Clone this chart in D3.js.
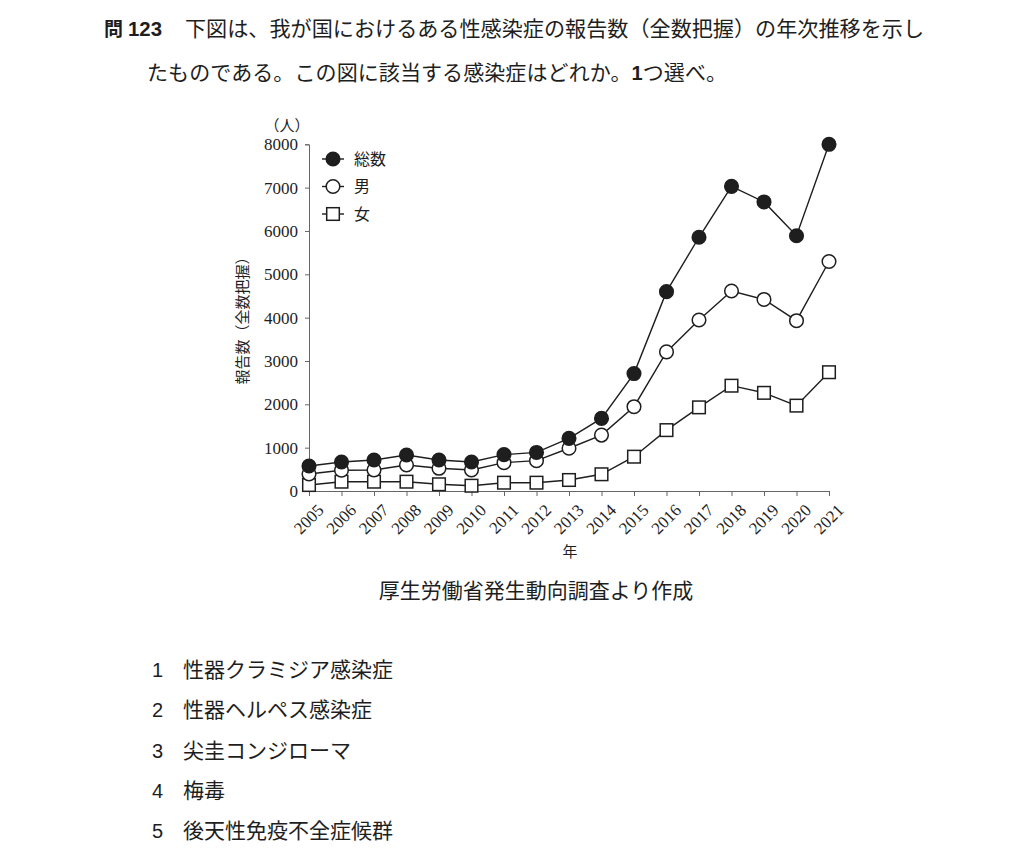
<!DOCTYPE html>
<html><head><meta charset="utf-8">
<script src="https://cdn.jsdelivr.net/npm/d3@7"></script>
<style>
body{margin:0;background:#fff;}
svg{display:block;}
</style></head>
<body>
<svg id="c" width="1032" height="856"></svg>
<script>
const years = [2005,2006,2007,2008,2009,2010,2011,2012,2013,2014,2015,2016,2017,2018,2019,2020,2021];
const totalVals = [577,670,716,830,716,670,840,890,1215,1675,2710,4600,5855,7030,6670,5890,8000];
const maleVals  = [392,480,485,600,524,485,654,700,986,1290,1945,3210,3945,4615,4420,3930,5296];
const femaleVals= [138,215,215,215,155,122,192,192,254,386,792,1405,1930,2430,2265,1970,2741];
const yTicks = [0,1000,2000,3000,4000,5000,6000,7000,8000];
const seriesNames = ["総数","男","女"];
const qNum = ["問","123"];
const question = ["下図は、我が国におけるある性感染症の報告数（全数把握）の年次推移を示し","たものである。この図に該当する感染症はどれか。","1","つ選べ。"];
const options = ["性器クラミジア感染症","性器ヘルペス感染症","尖圭コンジローマ","梅毒","後天性免疫不全症候群"];

const svg = d3.select("#c");
const ink = "#1e1e1e";
const serif = "'Liberation Serif','DejaVu Serif',serif";
const jp = "'Noto Sans CJK JP','Noto Sans',sans-serif";
const sans = "'Liberation Sans','Noto Sans',sans-serif";

// question text
svg.append("text").attr("x",104).attr("y",36).attr("font-family",jp).attr("font-weight","bold")
  .attr("font-size",19).attr("fill",ink).text(qNum[0]);
svg.append("text").attr("x",128).attr("y",36).attr("font-family",sans).attr("font-weight","bold")
  .attr("font-size",20).attr("fill",ink).attr("textLength",34).attr("lengthAdjust","spacingAndGlyphs").text(qNum[1]);
svg.append("text").attr("x",185).attr("y",36).attr("font-family",jp).attr("font-size",21)
  .attr("fill",ink).attr("textLength",739).attr("lengthAdjust","spacingAndGlyphs").text(question[0]);
const l2 = svg.append("text").attr("x",147).attr("y",80).attr("font-family",jp).attr("font-size",21)
  .attr("fill",ink).attr("textLength",580).attr("lengthAdjust","spacing");
l2.append("tspan").text(question[1]);
l2.append("tspan").attr("font-family",sans).attr("font-weight","bold").attr("font-size",20).text(question[2]);
l2.append("tspan").text(question[3]);

// chart
const x = d3.scalePoint().domain(years).range([309,829]);
const y = d3.scaleLinear().domain([0,8000]).range([491,144.3]);

const yAxis = svg.append("g").attr("transform","translate(309,0)")
  .call(d3.axisLeft(y).tickValues(yTicks).tickSize(4).tickPadding(7).tickFormat(d3.format("d")));
yAxis.selectAll("text").attr("font-family",serif).attr("font-size",17).attr("fill",ink);
yAxis.selectAll("line,path").attr("stroke","#666");

const xAxis = svg.append("g").attr("transform","translate(0,491)")
  .call(d3.axisBottom(x).tickSize(5).tickSizeOuter(0));
xAxis.selectAll("line,path").attr("stroke","#666");
xAxis.selectAll("text").attr("font-family",serif).attr("font-size",17).attr("fill",ink)
  .attr("text-anchor","end").attr("x",0).attr("y",0).attr("dy","0.35em")
  .attr("transform","translate(11,16) rotate(-45)");

svg.append("text").attr("x",287).attr("y",131).attr("text-anchor","middle").attr("font-family",jp)
  .attr("font-size",15).attr("fill",ink).text("（人）");
svg.append("text").attr("transform","translate(248,317) rotate(-90)").attr("text-anchor","middle")
  .attr("font-family",jp).attr("font-size",15).attr("fill",ink).text("報告数（全数把握）");
svg.append("text").attr("x",570).attr("y",557).attr("text-anchor","middle").attr("font-family",jp)
  .attr("font-size",15).attr("fill",ink).text("年");
svg.append("text").attr("x",536).attr("y",598).attr("text-anchor","middle").attr("font-family",jp)
  .attr("font-size",21).attr("fill",ink).text("厚生労働省発生動向調査より作成");

const series = [
  {name:seriesNames[0], vals:totalVals, type:"circle", fill:ink},
  {name:seriesNames[1], vals:maleVals, type:"circle", fill:"#fff"},
  {name:seriesNames[2], vals:femaleVals, type:"square", fill:"#fff"}
];
const line = d3.line().x((d,i)=>x(years[i])).y(d=>y(d));

[...series].reverse().forEach(s=>{
  svg.append("path").attr("d",line(s.vals)).attr("fill","none").attr("stroke",ink).attr("stroke-width",1.4);
});
function marker(g,s,cx,cy){
  if(s.type==="circle"){
    g.append("circle").attr("cx",cx).attr("cy",cy).attr("r",6.8).attr("fill",s.fill)
      .attr("stroke",ink).attr("stroke-width",1.5);
  } else {
    g.append("rect").attr("x",cx-6.3).attr("y",cy-6.3).attr("width",12.6).attr("height",12.6)
      .attr("fill",s.fill).attr("stroke",ink).attr("stroke-width",1.5);
  }
}
[...series].reverse().forEach(s=>{
  const g = svg.append("g");
  s.vals.forEach((v,i)=>marker(g,s,x(years[i]),y(v)));
});

// legend
series.forEach((s,i)=>{
  const ly = 159 + i*27.5;
  const g = svg.append("g");
  g.append("line").attr("x1",322).attr("x2",344).attr("y1",ly).attr("y2",ly).attr("stroke",ink).attr("stroke-width",1.4);
  marker(g,s,333,ly);
  g.append("text").attr("x",354).attr("y",ly).attr("dy","0.35em").attr("font-family",jp)
    .attr("font-size",16).attr("fill",ink).text(s.name);
});

// options
options.forEach((o,i)=>{
  const oy = 677 + i*40.3;
  svg.append("text").attr("x",152).attr("y",oy).attr("font-family",sans)
    .attr("font-size",20).attr("fill",ink).text(i+1);
  svg.append("text").attr("x",183).attr("y",oy).attr("font-family",jp).attr("font-size",21)
    .attr("fill",ink).text(o);
});
</script>
</body></html>
